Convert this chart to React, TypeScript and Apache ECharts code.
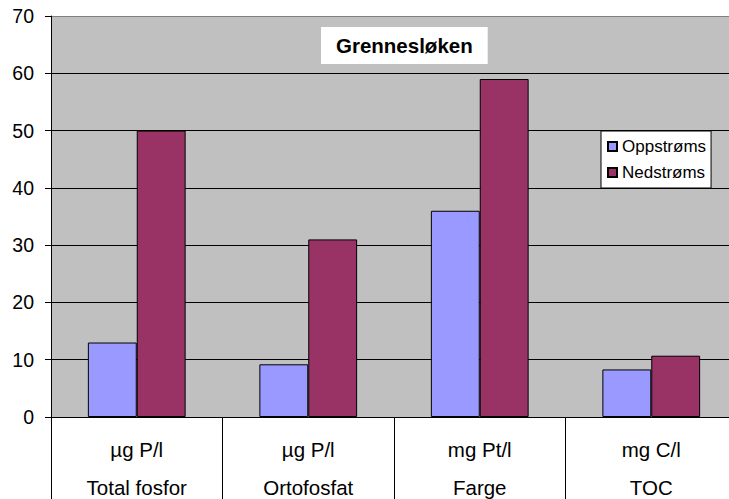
import React, { useEffect, useRef } from "react";
import * as echarts from "echarts";

const units = ["µg P/l", "µg P/l", "mg Pt/l", "mg C/l"];
const names = ["Total fosfor", "Ortofosfat", "Farge", "TOC"];
const oppstroms = [13, 9.2, 36, 8.3];
const nedstroms = [50, 31, 59, 10.7];
const yTicks = [0, 10, 20, 30, 40, 50, 60, 70];

const FONT = "'Liberation Sans', Arial, sans-serif";

export default function App() {
  const ref = useRef<HTMLDivElement>(null);
  useEffect(() => {
    if (!ref.current) return;
    const chart = echarts.init(ref.current, undefined, { renderer: "svg" });
    const categories = units.map((u, i) => u + "\n" + names[i]);
    chart.setOption({
      animation: false,
      textStyle: { fontFamily: FONT },
      title: {
        text: "Grennesløken",
        left: 321,
        top: 27,
        backgroundColor: "#ffffff",
        padding: [8, 15, 8, 15],
        textStyle: { fontFamily: FONT, fontSize: 20.5, fontWeight: "bold", color: "#000" },
      },
      legend: {
        orient: "vertical",
        left: 601,
        top: 131,
        backgroundColor: "#ffffff",
        borderColor: "#000",
        borderWidth: 1,
        padding: [7, 5, 7, 6],
        itemWidth: 9,
        itemHeight: 9,
        itemGap: 9,
        icon: "rect",
        textStyle: { fontFamily: FONT, fontSize: 17, color: "#000" },
        data: ["Oppstrøms", "Nedstrøms"],
      },
      grid: {
        left: 51,
        top: 16,
        right: 8,
        bottom: 82,
        outerBoundsMode: "none",
        containLabel: false,
        show: true,
        backgroundColor: "#C0C0C0",
        borderWidth: 0,
      },
      xAxis: {
        type: "category",
        data: categories,
        axisLine: { show: true, lineStyle: { color: "#000", width: 1 } },
        axisTick: { show: true, interval: 0, length: 84, lineStyle: { color: "#000" } },
        axisLabel: {
          interval: 0,
          margin: 13,
          lineHeight: 38,
          fontSize: 20.5,
          color: "#000",
          fontFamily: FONT,
        },
      },
      yAxis: {
        type: "value",
        min: yTicks[0],
        max: yTicks[yTicks.length - 1],
        interval: 10,
        axisLine: { show: true, lineStyle: { color: "#000" } },
        axisTick: { show: true, length: 6, lineStyle: { color: "#000" } },
        axisLabel: { fontSize: 19.5, color: "#000", margin: 17, fontFamily: FONT },
        splitLine: {
          show: true,
          lineStyle: {
            color: ["#000", "#000", "#000", "#000", "#000", "#000", "#000", "#808080"],
            width: 1,
          },
        },
      },
      series: [
        {
          name: "Oppstrøms",
          type: "bar",
          data: oppstroms,
          barGap: "0%",
          barCategoryGap: "43%",
          itemStyle: { color: "#9999FF", borderColor: "#000", borderWidth: 1 },
        },
        {
          name: "Nedstrøms",
          type: "bar",
          data: nedstroms,
          barGap: "0%",
          barCategoryGap: "43%",
          itemStyle: { color: "#993366", borderColor: "#000", borderWidth: 1 },
        },
      ],
    });
    return () => chart.dispose();
  }, []);
  return (
    <div
      style={{
        position: "fixed",
        left: 0,
        top: 0,
        width: 729,
        height: 499,
        overflow: "hidden",
        background: "#fff",
      }}
    >
      <div ref={ref} style={{ width: 745, height: 499 }} />
    </div>
  );
}
